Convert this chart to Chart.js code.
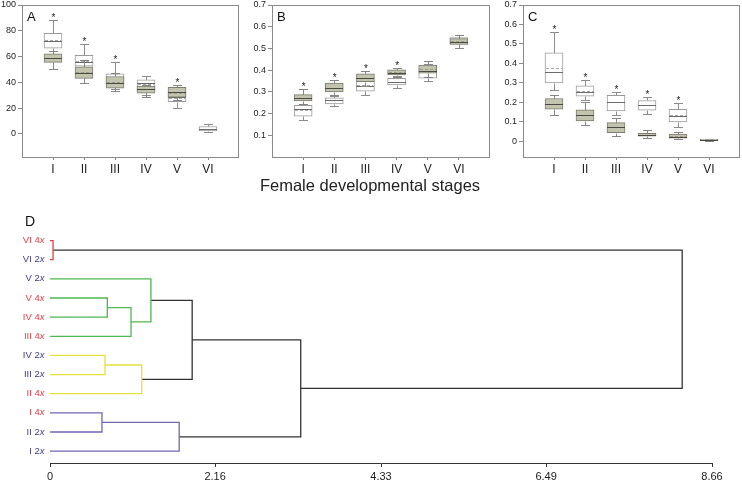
<!DOCTYPE html>
<html><head><meta charset="utf-8">
<script src="https://cdn.jsdelivr.net/npm/chart.js@4.4.1/dist/chart.umd.min.js"></script>
<style>
html,body{margin:0;padding:0;background:#fff;}
#fig{position:relative;width:742px;height:483px;overflow:hidden;background:#fff;}
#fig canvas{position:absolute;left:0;top:0;}
#xt{position:absolute;left:0;top:176px;width:740px;text-align:center;font:16.5px "Liberation Sans",Arial,sans-serif;color:#222;}
</style></head><body>
<div id="fig">
<canvas id="cA" width="742" height="483"></canvas>
<canvas id="cB" width="742" height="483"></canvas>
<canvas id="cC" width="742" height="483"></canvas>
<canvas id="cD" width="742" height="483"></canvas>
<div id="xt">Female developmental stages</div>
</div>
<script>
Chart.defaults.font.family = '"Liberation Sans", Arial, Helvetica, sans-serif';
Chart.defaults.color = '#222';
Chart.defaults.animation = false;

// ---------------- DATA ----------------
const stages = ['I','II','III','IV','V','VI'];
const stagePos = [1,2,3,4,5,6];

// box statistics per stage: [min, q1, median, q3, max, mean]
const aOpen = [[64.5,66.5,72,78,88,73],[50,52.5,55.5,61,70,56.5],[35,38,43,46.5,56,43.5],[30,33,39.5,42,45,38.5],[20,25,28.5,33,34.5,28],[1.5,2.3,3.9,5.7,7.5,4]];
const aShaded = [[50.5,55.5,59,62,64,59],[39.5,43,47.5,52,57.5,48],[33,35.5,39.5,44.5,47,40],[28.5,31.5,35,37,38,34.5],[26,28.5,32.5,36,38,32],null];
const aSig = [true,true,true,false,true,false];
const aTicks = [0,20,40,60,80,100];

const bOpen = [[0.17,0.188,0.22,0.238,0.245,0.218],[0.233,0.245,0.262,0.272,0.28,0.262],[0.287,0.303,0.327,0.35,0.37,0.33],[0.316,0.332,0.345,0.362,0.372,0.347],[0.352,0.363,0.39,0.41,0.43,0.39],[0.5,0.52,0.535,0.55,0.56,0.535]];
const bShaded = [[0.245,0.258,0.273,0.287,0.312,0.273],[0.285,0.30,0.32,0.34,0.355,0.32],[0.325,0.347,0.362,0.383,0.396,0.364],[0.37,0.378,0.388,0.402,0.41,0.39],[0.37,0.386,0.395,0.423,0.44,0.405],[0.5,0.518,0.53,0.545,0.56,0.532]];
const bSig = [true,true,true,true,false,false];
const bTicks = [0.1,0.2,0.3,0.4,0.5,0.6,0.7];

const cOpen = [[0.265,0.3,0.355,0.455,0.56,0.378],[0.215,0.232,0.255,0.285,0.316,0.258],[0.135,0.157,0.2,0.237,0.255,0.2],[0.143,0.16,0.185,0.21,0.23,0.185],[0.075,0.1,0.13,0.165,0.195,0.135],[0.004,0.006,0.008,0.011,0.014,0.008]];
const cShaded = [[0.134,0.165,0.19,0.22,0.24,0.19],[0.082,0.105,0.135,0.162,0.2,0.135],[0.03,0.045,0.076,0.096,0.118,0.076],[0.02,0.027,0.033,0.042,0.058,0.034],[0.012,0.016,0.025,0.038,0.05,0.026],[0.004,0.006,0.008,0.011,0.014,0.008]];
const cSig = [true,true,true,true,true,false];
const cTicks = [0,0.1,0.2,0.3,0.4,0.5,0.6,0.7];

// dendrogram
const leafStage  = ['VI','VI','V','V','IV','III','IV','III','II','I','II','I'];
const leafPloidy = ['4','2','2','4','4','4','2','2','4','4','2','2'];
const mergeA = [0,3,13,2,6,16,15,9,19,18,12];
const mergeB = [1,4,5,14,7,8,17,10,11,20,21];
const mergeHeight = [0.04,0.75,1.06,1.32,0.72,1.20,1.86,0.68,1.69,3.28,8.27];
const dTicks = [0,2.16,4.33,6.49,8.66];

// ---------------- STYLE ----------------
const RED='#e63c46', GREEN='#4cb84f', YELLOW='#e6e13a', PURPLE='#7465b4', BLACK='#333333', NAVY='#3f3c86';
const mergeColor = [RED,GREEN,GREEN,GREEN,YELLOW,YELLOW,BLACK,PURPLE,PURPLE,BLACK,BLACK];
const W=742, H=483, YW=24, XH=20, BOXW=18, CAP=9;
const FONT='"Liberation Sans", Arial, Helvetica, sans-serif';

const boxPlugin = {
  id:'boxplot',
  beforeDatasetDraw(chart,args){
    const ds = chart.data.datasets[args.index]; if(!ds.stats) return;
    const ctx=chart.ctx, xs=chart.scales.x, ys=chart.scales.y;
    const y=v=>Math.round(ys.getPixelForValue(v))+0.5;
    ctx.save(); ctx.strokeStyle=ds.whiskerColor; ctx.lineWidth=1;
    ds.stats.forEach((s,i)=>{ if(!s) return;
      const px=Math.round(xs.getPixelForValue(stagePos[i]))+0.5;
      ctx.beginPath();
      ctx.moveTo(px,y(s[0])); ctx.lineTo(px,y(s[1]));
      ctx.moveTo(px,y(s[3])); ctx.lineTo(px,y(s[4]));
      ctx.moveTo(px-CAP/2,y(s[0])); ctx.lineTo(px+CAP/2,y(s[0]));
      ctx.moveTo(px-CAP/2,y(s[4])); ctx.lineTo(px+CAP/2,y(s[4]));
      ctx.stroke();
    });
    ctx.restore();
  },
  afterDatasetDraw(chart,args){
    const ds = chart.data.datasets[args.index]; if(!ds.stats) return;
    const ctx=chart.ctx, xs=chart.scales.x, ys=chart.scales.y;
    const y=v=>Math.round(ys.getPixelForValue(v))+0.5;
    ctx.save(); ctx.lineWidth=1;
    ds.stats.forEach((s,i)=>{ if(!s) return;
      const px=Math.round(xs.getPixelForValue(stagePos[i]));
      ctx.setLineDash([3,2]); ctx.strokeStyle=ds.meanColor;
      ctx.beginPath(); ctx.moveTo(px-BOXW/2+1,y(s[5])); ctx.lineTo(px+BOXW/2-1,y(s[5])); ctx.stroke();
      ctx.setLineDash([]); ctx.strokeStyle=ds.medianColor;
      ctx.beginPath(); ctx.moveTo(px-BOXW/2,y(s[2])); ctx.lineTo(px+BOXW/2,y(s[2])); ctx.stroke();
    });
    ctx.restore();
  },
  afterDatasetsDraw(chart,args,opts){
    const ctx=chart.ctx, xs=chart.scales.x, ys=chart.scales.y, a=chart.chartArea;
    ctx.save();
    ctx.fillStyle='#222'; ctx.font='10px '+FONT; ctx.textAlign='center'; ctx.textBaseline='alphabetic';
    opts.sig.forEach((on,i)=>{ if(!on) return;
      let top=-Infinity; chart.data.datasets.forEach(ds=>{ const s=ds.stats[i]; if(s) top=Math.max(top,s[4]); });
      ctx.fillText('*', xs.getPixelForValue(stagePos[i])+0.5, ys.getPixelForValue(top)+1);
    });
    ctx.strokeStyle='#8a8a8a'; ctx.lineWidth=1;
    ctx.strokeRect(Math.round(a.left)+0.5, Math.round(a.top)+0.5, Math.round(a.right-a.left)-1, Math.round(a.bottom-a.top));
    ctx.font='13px '+FONT; ctx.textAlign='left'; ctx.fillStyle='#111';
    ctx.fillText(opts.letter, a.left+5, a.top+16);
    ctx.restore();
  }
};

function boxChart(id, area, yMin, yMax, ticks, fmt, open, shaded, sig, letter){
  const mk = (stats)=> stats.map((s,i)=> s ? {x:stagePos[i], y:[s[1],s[3]]} : null).filter(Boolean);
  new Chart(document.getElementById(id), {
    type:'bar',
    data:{ datasets:[
      {label:'shaded', data:mk(shaded), stats:shaded, order:0, grouped:false, barThickness:BOXW,
       backgroundColor:'#c3c4ae', borderColor:'#7d7d70', borderWidth:1, borderSkipped:false,
       whiskerColor:'#858585', medianColor:'#4a4a42', meanColor:'#9c9c8a'},
      {label:'open', data:mk(open), stats:open, order:1, grouped:false, barThickness:BOXW,
       backgroundColor:'#ffffff', borderColor:'#9a9a9a', borderWidth:1, borderSkipped:false,
       whiskerColor:'#8c8c8c', medianColor:'#6a6a6a', meanColor:'#a8a8a8'}
    ]},
    options:{
      responsive:false, devicePixelRatio:1, animation:false,
      layout:{padding:{left:area.l-YW, top:area.t, right:W-area.r, bottom:H-area.b-XH}},
      plugins:{legend:{display:false}, tooltip:{enabled:false}, boxplot:{sig, letter}},
      scales:{
        x:{type:'linear', min:0, max:7, offset:false,
           grid:{offset:false, drawOnChartArea:false, drawTicks:true, tickLength:3, color:'#8a8a8a'},
           border:{display:false},
           afterBuildTicks:s=>{ s.ticks = stagePos.map(v=>({value:v})); },
           afterFit:s=>{ s.height=XH; s.paddingLeft=0; s.paddingRight=0; },
           ticks:{font:{size:12}, padding:2, maxRotation:0, autoSkip:false, color:'#222',
                  callback:v=>stages[stagePos.indexOf(v)]}},
        y:{type:'linear', min:yMin, max:yMax,
           grid:{drawOnChartArea:false, drawTicks:true, tickLength:4, color:'#8a8a8a'},
           border:{display:false},
           afterBuildTicks:s=>{ s.ticks = ticks.map(v=>({value:v})); },
           afterFit:s=>{ s.width=YW; s.paddingTop=0; s.paddingBottom=0; },
           ticks:{font:{size:9}, padding:2, color:'#222', callback:fmt}}
      }
    },
    plugins:[boxPlugin]
  });
}

const fmtInt = v=>String(v);
const fmtDec = v=> v===0 ? '0' : v.toFixed(1);
boxChart('cA',{l:22,t:5,r:239,b:157},-18,100,aTicks,fmtInt,aOpen,aShaded,aSig,'A');
boxChart('cB',{l:272,t:5,r:490,b:157},0,0.7,bTicks,fmtDec,bOpen,bShaded,bSig,'B');
boxChart('cC',{l:523,t:5,r:740,b:157},-0.08,0.7,cTicks,fmtDec,cOpen,cShaded,cSig,'C');

// ---------------- DENDROGRAM ----------------
const nodeX = leafStage.map(()=>0);
const nodeY = leafStage.map((_,i)=>i);
const dendroSets = mergeA.map((a,k)=>{
  const b=mergeB[k], h=mergeHeight[k];
  const ds = {type:'scatter', showLine:true, clip:false, borderColor:mergeColor[k], borderWidth:1.3,
    pointRadius:0, tension:0,
    data:[{x:nodeX[a],y:nodeY[a]},{x:h,y:nodeY[a]},{x:h,y:nodeY[b]},{x:nodeX[b],y:nodeY[b]}]};
  nodeX.push(h); nodeY.push((nodeY[a]+nodeY[b])/2);
  return ds;
});

const leafPlugin = {
  id:'leaves',
  afterDraw(chart){
    const ctx=chart.ctx, ys=chart.scales.y, a=chart.chartArea;
    ctx.save(); ctx.textBaseline='middle';
    leafStage.forEach((st,i)=>{
      const y=ys.getPixelForValue(i);
      const main=st+' '+leafPloidy[i];
      ctx.font='9.5px '+FONT; const w1=ctx.measureText(main).width;
      ctx.font='italic 9.5px '+FONT; const w2=ctx.measureText('x').width;
      const right=a.left-5.5;
      ctx.fillStyle = leafPloidy[i]==='4' ? RED : NAVY;
      ctx.textAlign='left';
      ctx.font='9.5px '+FONT; ctx.fillText(main, right-w1-w2, y);
      ctx.font='italic 9.5px '+FONT; ctx.fillText('x', right-w2, y);
    });
    ctx.font='14px '+FONT; ctx.fillStyle='#111'; ctx.textAlign='left'; ctx.textBaseline='alphabetic';
    ctx.fillText('D', 25, 226);
    ctx.restore();
  }
};

new Chart(document.getElementById('cD'), {
  type:'scatter',
  data:{datasets:dendroSets},
  options:{
    responsive:false, devicePixelRatio:1, animation:false,
    layout:{padding:{left:50, top:231, right:W-712, bottom:0}},
    plugins:{legend:{display:false}, tooltip:{enabled:false}},
    scales:{
      x:{type:'linear', min:0, max:8.66,
         grid:{drawOnChartArea:false, drawTicks:true, tickLength:4, color:'#333'},
         border:{display:true, color:'#333', width:1},
         afterBuildTicks:s=>{ s.ticks = dTicks.map(v=>({value:v})); },
         afterFit:s=>{ s.height=H-463; s.paddingLeft=0; s.paddingRight=0; },
         ticks:{font:{size:11}, padding:3, maxRotation:0, autoSkip:false, color:'#222',
                callback:v=> v===0 ? '0' : v.toFixed(2)}},
      y:{type:'linear', min:-0.5, max:11.62, reverse:true, display:false}
    }
  },
  plugins:[leafPlugin]
});
</script></body></html>
